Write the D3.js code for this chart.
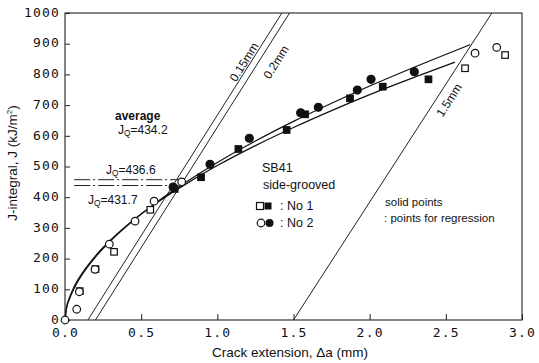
<!DOCTYPE html>
<html>
<head>
<meta charset="utf-8">
<script src="https://cdn.jsdelivr.net/npm/d3@7"></script>
<style>
  body { margin: 0; background: #fff; }
  svg text { fill: #111; }
  .tick text { font-family: "DejaVu Sans Mono", monospace; font-size: 13px; letter-spacing: 1.2px; }
  .lbl { font-family: "Liberation Sans Narrow", "Liberation Sans", Arial, sans-serif; }
</style>
</head>
<body>
<svg id="chart" width="539" height="363"></svg>
<script>
// axis ticks
const xTicks = [0, 0.5, 1.0, 1.5, 2.0, 2.5, 3.0];
const yTicks = [0, 100, 200, 300, 400, 500, 600, 700, 800, 900, 1000];

// specimen No 1 (squares) : [crack extension mm, J kJ/m2]
const no1Solid = [[0.72, 427], [0.893, 465], [1.138, 557], [1.455, 619], [1.576, 670],
                  [1.871, 722], [2.086, 760], [2.386, 784]];
const no1Open = [[0.097, 94], [0.2, 166], [0.322, 222], [0.56, 359], [2.626, 820], [2.889, 863]];

// specimen No 2 (circles)
const no2Solid = [[0.71, 433], [0.952, 507], [1.21, 592], [1.547, 675], [1.663, 693],
                  [1.919, 749], [2.009, 784], [2.293, 809]];
const no2Open = [[0, 0], [0.077, 35], [0.094, 92], [0.197, 165], [0.291, 247], [0.46, 322],
                 [0.585, 387], [0.766, 450], [2.692, 869], [2.834, 888]];

// regression curves
const no1Curve = [[0, 0], [0.01, 41], [0.03, 74], [0.06, 109], [0.1, 143], [0.2, 209], [0.3, 261],
                  [0.45, 326], [0.6, 381], [0.8, 445], [1.0, 503], [1.25, 568], [1.5, 627],
                  [1.75, 682], [2.0, 734], [2.3, 792], [2.56, 840]];
const no2Curve = [[0, 0], [0.01, 37], [0.03, 69], [0.06, 103], [0.1, 138], [0.2, 205], [0.3, 258],
                  [0.45, 325], [0.6, 383], [0.8, 451], [1.0, 513], [1.25, 583], [1.5, 647],
                  [1.75, 706], [2.0, 762], [2.3, 825], [2.66, 897]];

// offset lines: [offset mm, slope, label]
const offsetLines = [[0.15, 785, "0.15mm"], [0.2, 785, "0.2mm"], [1.5, 768, "1.5mm"]];

// JQ lines: [J, from, to]
const jqLines = [[457, 0.06, 0.755], [438, 0.06, 0.709]];

const svg = d3.select("#chart");
const x = d3.scaleLinear().domain([0, 3]).range([65, 522]);
const y = d3.scaleLinear().domain([0, 1000]).range([320, 13]);

// frame
svg.append("rect")
    .attr("x", x(0)).attr("y", y(1000))
    .attr("width", x(3) - x(0)).attr("height", y(0) - y(1000))
    .attr("fill", "none").attr("stroke", "#222").attr("stroke-width", 1.1);

// axes with inward ticks
svg.append("g")
    .attr("transform", `translate(0,${y(0)})`)
    .call(d3.axisBottom(x).tickValues(xTicks).tickFormat(d3.format(".1f"))
        .tickSize(-6).tickSizeOuter(0).tickPadding(8))
    .call(g => g.select(".domain").remove())
    .call(g => g.selectAll("line").attr("stroke", "#222"));

svg.append("g")
    .attr("transform", `translate(${x(0)},0)`)
    .call(d3.axisLeft(y).tickValues(yTicks).tickFormat(d3.format("d"))
        .tickSize(-5).tickSizeOuter(0).tickPadding(5))
    .call(g => g.select(".domain").remove())
    .call(g => g.selectAll("line").attr("stroke", "#222"))
    .call(g => g.selectAll("text").attr("dy", "0.25em"));

// axis titles
svg.append("text").attr("class", "lbl")
    .attr("x", 290).attr("y", 357).attr("text-anchor", "middle")
    .attr("font-size", 13.5)
    .html("Crack extension, &#916;a (mm)");

svg.append("text").attr("class", "lbl")
    .attr("transform", "translate(17,163) rotate(-90)")
    .attr("text-anchor", "middle").attr("font-size", 13.5)
    .html("J-integral, J (kJ/m<tspan font-size='8' dy='-5'>2</tspan><tspan dy='5'>)</tspan>");

const line = d3.line().x(d => x(d[0])).y(d => y(d[1]));

// offset lines
offsetLines.forEach(([off, slope, name]) => {
    svg.append("path")
        .attr("d", line([[off, 0], [off + 1000 / slope, 1000]]))
        .attr("fill", "none").attr("stroke", "#222").attr("stroke-width", 1);
});

// regression curves
[no1Curve, no2Curve].forEach(c => {
    svg.append("path")
        .attr("d", line.curve(d3.curveMonotoneX)(c))
        .attr("fill", "none").attr("stroke", "#111").attr("stroke-width", 1.2);
});
line.curve(d3.curveLinear);

// JQ lines
jqLines.forEach(([j, a0, a1]) => {
    svg.append("path")
        .attr("d", line([[a0, j], [a1, j]]))
        .attr("fill", "none").attr("stroke", "#222").attr("stroke-width", 1)
        .attr("stroke-dasharray", "16,3,2,3");
});

// markers
function squares(data, filled, s) {
    svg.append("g").selectAll("rect").data(data).join("rect")
        .attr("x", d => x(d[0]) - s / 2).attr("y", d => y(d[1]) - s / 2)
        .attr("width", s).attr("height", s)
        .attr("fill", filled ? "#111" : "#fff")
        .attr("stroke", "#111").attr("stroke-width", 1.2);
}
function circles(data, filled, r) {
    svg.append("g").selectAll("circle").data(data).join("circle")
        .attr("cx", d => x(d[0])).attr("cy", d => y(d[1])).attr("r", r)
        .attr("fill", filled ? "#111" : "#fff")
        .attr("stroke", "#111").attr("stroke-width", 1.2);
}
squares(no1Open, false, 6.5);
circles(no2Open, false, 3.8);
squares(no1Solid, true, 6.5);
circles(no2Solid, true, 4);

// offset line labels
const ang = s => -Math.atan2(s * (y(0) - y(1000)) / 1000, x(1) - x(0)) * 180 / Math.PI;
const lblPos = [[244, 62], [276, 62], [449, 100]];
offsetLines.forEach(([off, slope, name], i) => {
    svg.append("text").attr("class", "lbl")
        .attr("transform", `translate(${lblPos[i][0]},${lblPos[i][1]}) rotate(${ang(slope)})`)
        .attr("text-anchor", "middle").attr("dy", "0.35em").attr("font-size", 12)
        .text(name);
});

// JQ annotations
function jq(xp, yp, val, fs) {
    svg.append("text").attr("class", "lbl").attr("x", xp).attr("y", yp)
        .attr("font-size", fs)
        .html(`J<tspan font-size="${fs * 0.7}" dy="1.5">Q</tspan><tspan dy="-1.5">=${val}</tspan>`);
}
svg.append("text").attr("class", "lbl").attr("x", 115).attr("y", 120)
    .attr("font-size", 12).attr("font-weight", "bold").text("average");
jq(118, 134, "434.2", 12);
jq(106, 174, "436.6", 12);
jq(88, 204, "431.7", 12);

// legend
const lg = svg.append("g").attr("class", "lbl").attr("font-size", 12.5);
lg.append("text").attr("x", 262).attr("y", 172).text("SB41");
lg.append("text").attr("x", 263).attr("y", 189).text("side-grooved");
lg.append("rect").attr("x", 256.5).attr("y", 202.5).attr("width", 7).attr("height", 7)
    .attr("fill", "#fff").attr("stroke", "#111").attr("stroke-width", 1.2);
lg.append("rect").attr("x", 264.5).attr("y", 202.5).attr("width", 7).attr("height", 7)
    .attr("fill", "#111");
lg.append("text").attr("x", 280).attr("y", 210).text(": No 1");
lg.append("circle").attr("cx", 261).attr("cy", 223).attr("r", 3.8)
    .attr("fill", "#fff").attr("stroke", "#111").attr("stroke-width", 1.2);
lg.append("circle").attr("cx", 269.5).attr("cy", 223).attr("r", 4).attr("fill", "#111");
lg.append("text").attr("x", 280).attr("y", 227).text(": No 2");

lg.append("text").attr("x", 385).attr("y", 206).attr("font-size", 11.5).text("solid points");
lg.append("text").attr("x", 384).attr("y", 222).attr("font-size", 11.5).text(": points for regression");
</script>
</body>
</html>
